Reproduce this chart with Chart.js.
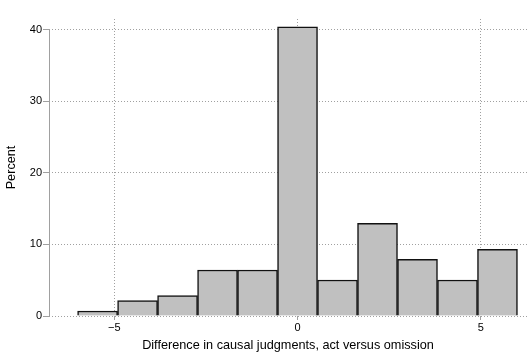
<!DOCTYPE html>
<html>
<head>
<meta charset="utf-8">
<script src="https://cdn.jsdelivr.net/npm/chart.js@4.4.1/dist/chart.umd.min.js"></script>
<style>
html,body{margin:0;padding:0;background:#fff;}
#wrap{width:531px;height:353px;position:relative;}
</style>
</head>
<body>
<div id="wrap"><canvas id="c" width="531" height="353"></canvas></div>
<script>
// Bin centers (bins of width 12/11 from -6 to 6)
const binCenters = [-5.4545, -4.3636, -3.2727, -2.1818, -1.0909, 0, 1.0909, 2.1818, 3.2727, 4.3636, 5.4545];
// Percent in each bin
const percents = [0.7, 2.14, 2.84, 6.43, 6.43, 40.42, 5.03, 12.96, 7.93, 5.03, 9.33];
const xTicks = [-5, 0, 5];
const yTicks = [0, 10, 20, 30, 40];

const yAxisLine = {
  id: 'yAxisLine',
  afterDatasetsDraw(chart) {
    const {ctx, chartArea, scales} = chart;
    const y = scales.y;
    ctx.save();
    ctx.strokeStyle = '#a0a0a0';
    ctx.lineWidth = 1;
    ctx.beginPath();
    const x = Math.round(chartArea.left) + 0.5;
    ctx.moveTo(x, y.getPixelForValue(yTicks[yTicks.length - 1]));
    ctx.lineTo(x, y.getPixelForValue(0));
    ctx.stroke();
    ctx.restore();
  }
};

new Chart(document.getElementById('c'), {
  type: 'bar',
  data: {
    datasets: [{
      data: binCenters.map((x, i) => ({x: x, y: percents[i]})),
      backgroundColor: '#c0c0c0',
      borderColor: '#111111',
      borderWidth: 1.5,
      borderSkipped: 'bottom',
      barPercentage: 1,
      categoryPercentage: 1,
      grouped: false
    }]
  },
  options: {
    responsive: false,
    animation: false,
    devicePixelRatio: 1,
    layout: {padding: {top: 19, right: 4, left: 0, bottom: 0}},
    plugins: {legend: {display: false}, tooltip: {enabled: false}},
    scales: {
      x: {
        type: 'linear',
        offset: false,
        min: -6.78,
        max: 6.26,
        afterBuildTicks(s) { s.ticks = xTicks.map(v => ({value: v})); },
        afterFit(s) { s.height = 37; },
        border: {display: false, dash: [1, 2]},
        grid: {
          offset: false,
          color: '#a0a0a0',
          lineWidth: 1,
          drawTicks: true,
          tickLength: 4,
          tickColor: '#a0a0a0',
          tickBorderDash: []
        },
        ticks: {
          color: '#000',
          font: {family: 'Liberation Sans, Arial, sans-serif', size: 11},
          padding: 1,
          maxRotation: 0,
          callback: v => (v < 0 ? '\u2212' + Math.abs(v) : String(v))
        },
        title: {
          display: true,
          text: 'Difference in causal judgments, act versus omission',
          color: '#000',
          font: {family: 'Liberation Sans, Arial, sans-serif', size: 12.7},
          padding: {top: 3, bottom: 0}
        }
      },
      y: {
        min: 0,
        max: 41.5,
        afterBuildTicks(s) { s.ticks = yTicks.map(v => ({value: v})); },
        afterFit(s) { s.width = 49; },
        border: {display: false, dash: [1, 2]},
        grid: {
          color: '#a0a0a0',
          lineWidth: 1,
          drawTicks: true,
          tickLength: 6,
          tickColor: '#a0a0a0',
          tickBorderDash: []
        },
        ticks: {
          color: '#000',
          font: {family: 'Liberation Sans, Arial, sans-serif', size: 11},
          padding: 1
        },
        title: {
          display: true,
          text: 'Percent',
          color: '#000',
          font: {family: 'Liberation Sans, Arial, sans-serif', size: 12.7},
          padding: {top: 4, bottom: 0}
        }
      }
    }
  },
  plugins: [yAxisLine]
});
</script>
</body>
</html>
